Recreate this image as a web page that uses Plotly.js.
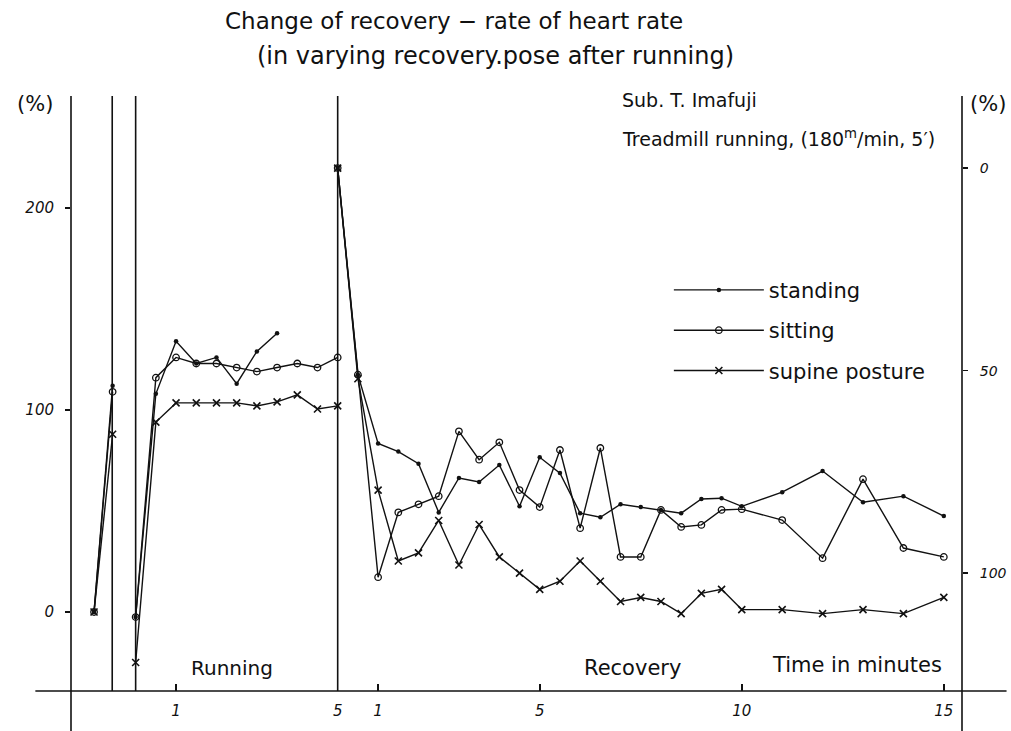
<!DOCTYPE html>
<html>
<head>
<meta charset="utf-8">
<script src="https://cdn.plot.ly/plotly-3.0.1.min.js"></script>
<style>
  html, body { margin: 0; padding: 0; background: #fff; }
  #chart { width: 1011px; height: 731px; }
</style>
</head>
<body>
<div id="chart"></div>
<script>
// ---- Heart-rate increase before and during the run (left axis, %) ----
const preTime = [-1.03, -0.57];
const runTime = [0, 0.5, 1, 1.5, 2, 2.5, 3, 3.5, 4, 4.5, 5];

const standingPre = [0, 112];
const sittingPre = [0, 109];
const supinePre = [0, 88];

const standingRun = [-2.5, 108, 134, 123, 126, 113, 129, 138];
const sittingRun = [-2.5, 116, 126, 123, 123, 121, 119, 121, 123, 121, 126];
const supineRun = [-25, 94, 103.5, 103.5, 103.5, 103.5, 102, 104, 107.5, 100.5, 102];

// ---- Recovery rate after the run (right axis, %), minutes after stopping ----
const runLength = 5;
const recTime = [0, 0.5, 1, 1.5, 2, 2.5, 3, 3.5, 4, 4.5, 5, 5.5, 6, 6.5, 7, 7.5,
                 8, 8.5, 9, 9.5, 10, 11, 12, 13, 14, 15];

const standingRec = [0, 51, 68, 70, 73, 85, 76.5, 77.5, 73.3, 83.5, 71.4, 75.3, 85.2,
                     86.2, 83, 83.7, 84.4, 85.2, 81.7, 81.5, 83.5, 80, 74.8, 82.5, 81, 85.9];
const sittingRec = [0, 51, 101, 85, 83, 81, 65, 72, 67.7, 79.5, 83.7, 69.6, 88.9,
                    69.1, 96, 96, 84.4, 88.6, 88.1, 84.4, 84.2, 86.9, 96.3, 76.8, 93.8, 96];
const supineRec = [0, 52, 79.5, 97, 95, 87, 98, 88, 96, 100, 104, 102, 97,
                   102, 107, 106, 107, 110, 105, 104, 109, 109, 110, 109, 110, 106];

// ---- Axis ticks ----
const xTickVals = [1, 5, 6, 10, 15, 20];
const xTickText = ['1', '5', '1', '5', '10', '15'];
const leftTicks = [0, 100, 200];
const rightTicks = [0, 50, 100];

// ---- Series names ----
const seriesNames = ['standing', 'sitting', 'supine posture'];

const INK = '#111';
const HAND = '"DejaVu Sans", "Noto Sans", sans-serif';

const markerStyles = [
  { symbol: 'circle', size: 4.5, color: INK },
  { symbol: 'circle-open', size: 6.5, color: INK, line: { width: 1.3, color: INK } },
  { symbol: 'x-thin', size: 7, color: INK, line: { width: 1.6, color: INK } }
];

const preSets = [standingPre, sittingPre, supinePre];
const runSets = [standingRun, sittingRun, supineRun];
const recSets = [standingRec, sittingRec, supineRec];

const traces = [];
seriesNames.forEach((name, i) => {
  const run = runSets[i];
  const x = preTime.concat([null], runTime.slice(0, run.length));
  const y = preSets[i].concat([null], run);
  traces.push({
    type: 'scatter', mode: 'lines+markers', name: name,
    legendgroup: name, showlegend: true,
    x: x, y: y, xaxis: 'x', yaxis: 'y',
    line: { color: INK, width: 1.4 },
    marker: markerStyles[i],
    connectgaps: false
  });
  traces.push({
    type: 'scatter', mode: 'lines+markers', name: name,
    legendgroup: name, showlegend: false,
    x: recTime.map(t => runLength + t), y: recSets[i],
    xaxis: 'x', yaxis: 'y2',
    line: { color: INK, width: 1.4 },
    marker: markerStyles[i]
  });
});

// Frame lines drawn in the hand-ruled style of the sheet
const vLine = (xv, xref, y0) => ({
  type: 'line', xref: xref, yref: 'paper', x0: xv, x1: xv, y0: y0, y1: 1,
  line: { color: INK, width: 1.6 }
});
const shapes = [
  { type: 'line', xref: 'paper', yref: 'paper', x0: -0.04, x1: 1.05, y0: 0, y1: 0,
    line: { color: INK, width: 1.6 } },
  vLine(0, 'paper', -0.07),
  vLine(1, 'paper', -0.07),
  vLine(-0.58, 'x', 0),
  vLine(0, 'x', 0),
  vLine(runLength, 'x', 0)
];

const note = (text, x, y, size, anchor) => ({
  text: text, xref: 'paper', yref: 'paper', x: x, y: y,
  xanchor: anchor || 'center', yanchor: 'middle', showarrow: false,
  font: { family: HAND, size: size, color: INK }
});

const annotations = [
  note('(in varying recovery.pose after running)', 0.476, 1.067, 24),
  note('Sub. T. Imafuji', 0.616, 0.993, 19, 'left'),
  note('Treadmill running, (180<sup>m</sup>/min, 5′)', 0.616, 0.929, 19, 'left'),
  note('(%)', -0.040, 0.987, 21),
  note('(%)', 1.029, 0.987, 21),
  note('Running', 0.181, 0.039, 20),
  note('Recovery', 0.630, 0.039, 21),
  note('Time in minutes', 0.882, 0.044, 21)
];

const tickFont = { family: HAND, size: 15, color: INK, style: 'italic' };

const layout = {
  width: 1011, height: 731,
  paper_bgcolor: '#fff', plot_bgcolor: '#fff',
  margin: { l: 71, r: 49, t: 96, b: 40, pad: 0 },
  title: {
    text: 'Change of recovery − rate of heart rate',
    x: 0.430, xanchor: 'center', xref: 'paper',
    y: 0.972, yanchor: 'middle', yref: 'container',
    font: { family: HAND, size: 23, color: INK }
  },
  xaxis: {
    range: [-1.6, 20.45], showgrid: false, zeroline: false, showline: false,
    tickmode: 'array', tickvals: xTickVals, ticktext: xTickText,
    ticks: 'inside', ticklen: 7, tickwidth: 1.6, tickcolor: INK,
    tickfont: tickFont, ticklabelstandoff: 9
  },
  yaxis: {
    range: [-39.1, 255.4], showgrid: false, zeroline: false, showline: false,
    tickmode: 'array', tickvals: leftTicks, ticktext: leftTicks.map(String),
    ticks: 'outside', ticklen: 5, tickwidth: 1.6, tickcolor: INK,
    tickfont: tickFont, ticklabelstandoff: 8
  },
  yaxis2: {
    overlaying: 'y', side: 'right',
    range: [129.1, -17.8], showgrid: false, zeroline: false, showline: false,
    tickmode: 'array', tickvals: rightTicks, ticktext: rightTicks.map(String),
    ticks: 'outside', ticklen: 5, tickwidth: 1.6, tickcolor: INK,
    tickfont: { family: HAND, size: 14, color: INK, style: 'italic' },
    ticklabelstandoff: 9
  },
  legend: {
    x: 0.671, y: 0.708, xanchor: 'left', yanchor: 'top',
    bgcolor: 'rgba(0,0,0,0)', borderwidth: 0,
    font: { family: HAND, size: 21, color: INK },
    tracegroupgap: 10, itemwidth: 90
  },
  shapes: shapes,
  annotations: annotations,
  showlegend: true
};

Plotly.newPlot('chart', traces, layout, { displayModeBar: false, staticPlot: true });
</script>
</body>
</html>
